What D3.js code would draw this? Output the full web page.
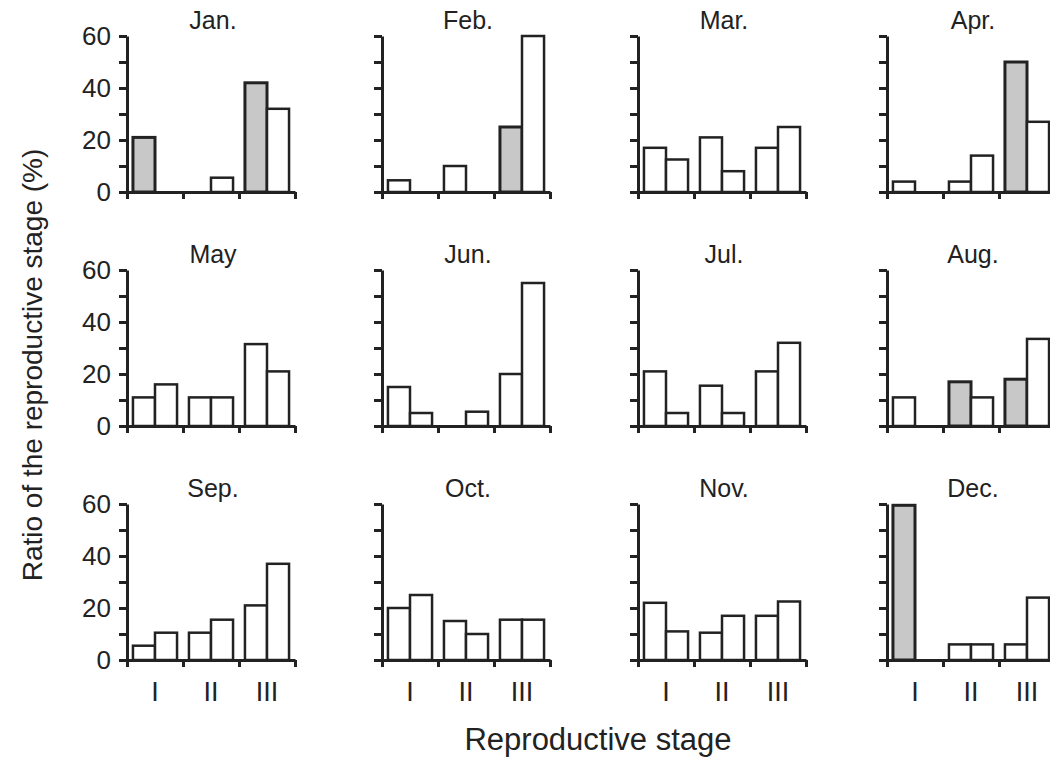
<!DOCTYPE html>
<html>
<head>
<meta charset="utf-8">
<script src="https://cdn.jsdelivr.net/npm/d3@7"></script>
<style>
  body { margin: 0; background: #fff; }
  svg { display: block; }
  text { font-family: "Liberation Sans", Arial, Helvetica, sans-serif; fill: #222; }
  .axis path, .axis line { stroke: #222; stroke-width: 3; }
</style>
</head>
<body>
<svg id="chart" width="1050" height="758"></svg>
<script>
// monthly panels
const months = ["Jan.", "Feb.", "Mar.", "Apr.", "May", "Jun.", "Jul.", "Aug.", "Sep.", "Oct.", "Nov.", "Dec."];
const stages = ["I", "II", "III"];
const leftBars = [
  [21, 0, 42], [4.5, 10, 25], [17, 21, 17], [4, 4, 50],
  [11, 11, 31.5], [15, 0, 20], [21, 15.5, 21], [11, 17, 18],
  [5.5, 10.5, 21], [20, 15, 15.5], [22, 10.5, 17], [59.5, 6, 6]
];
const rightBars = [
  [0, 5.5, 32], [0, 0, 60], [12.5, 8, 25], [0, 14, 27],
  [16, 11, 21], [5, 5.5, 55], [5, 5, 32], [0, 11, 33.5],
  [10.5, 15.5, 37], [25, 10, 15.5], [11, 17, 22.5], [0, 6, 24]
];
// which left bars are drawn shaded grey
const shadedLeft = [
  [1, 0, 1], [0, 0, 1], [0, 0, 0], [0, 0, 1],
  [0, 0, 0], [0, 0, 0], [0, 0, 0], [0, 1, 1],
  [0, 0, 0], [0, 0, 0], [0, 0, 0], [1, 0, 0]
];
const yTicks = [0, 10, 20, 30, 40, 50, 60];
const yLabels = [0, 20, 40, 60];

const colX = [127, 382, 638, 887];
const rowY = [36, 270, 504];
const panelW = 168, panelH = 156;

const svg = d3.select("#chart");

const x = d3.scaleBand().domain(stages).range([0, panelW]).paddingInner(0).paddingOuter(0);
const xSub = d3.scaleBand().domain(["a", "b"]).range([0, x.bandwidth()]).paddingInner(0).paddingOuter(0.27);
const y = d3.scaleLinear().domain([0, 60]).range([panelH, 0]);
const xEdge = d3.scaleLinear().domain([0, 3]).range([0, panelW]);

months.forEach((m, i) => {
  const col = i % 4, row = Math.floor(i / 4);
  const g = svg.append("g").attr("transform", `translate(${colX[col]},${rowY[row]})`);

  const bars = [];
  stages.forEach((s, j) => {
    bars.push({ stage: s, sub: "a", v: leftBars[i][j], shaded: shadedLeft[i][j] === 1 });
    bars.push({ stage: s, sub: "b", v: rightBars[i][j], shaded: false });
  });

  g.selectAll("rect.bar")
    .data(bars.filter(d => d.v > 0))
    .join("rect")
    .attr("class", "bar")
    .attr("x", d => x(d.stage) + xSub(d.sub))
    .attr("width", xSub.bandwidth())
    .attr("y", d => y(d.v))
    .attr("height", d => y(0) - y(d.v))
    .attr("fill", d => d.shaded ? "#c8c8c8" : "#fff")
    .attr("stroke", "#222")
    .attr("stroke-width", d => d.shaded ? 3 : 2.5);

  // y axis
  const ya = g.append("g").attr("class", "axis")
    .call(d3.axisLeft(y).tickValues(yTicks).tickSize(8).tickSizeOuter(0)
      .tickFormat(d => col === 0 && yLabels.includes(d) ? d : ""));
  ya.attr("font-size", null).attr("font-family", null);
  ya.selectAll("text").style("font-size", "26px").attr("dx", -5).attr("fill", "#222");

  // x axis
  g.append("g").attr("class", "axis")
    .attr("transform", `translate(0,${panelH})`)
    .call(d3.axisBottom(xEdge).tickValues([0, 1, 2, 3]).tickSize(7).tickSizeOuter(0).tickFormat(""));

  g.append("text")
    .attr("x", panelW / 2 + 2)
    .attr("y", -7)
    .attr("text-anchor", "middle")
    .style("font-size", "25px")
    .text(m);

  if (row === 2) {
    g.selectAll("text.stage")
      .data(stages)
      .join("text")
      .attr("class", "stage")
      .attr("x", d => x(d) + x.bandwidth() / 2)
      .attr("y", panelH + 41)
      .attr("text-anchor", "middle")
      .style("font-size", "27px")
      .attr("fill", "#333")
      .text(d => d);
  }
});

svg.append("text")
  .attr("transform", "translate(42,365) rotate(-90)")
  .attr("text-anchor", "middle")
  .style("font-size", "28px")
  .text("Ratio of the reproductive stage (%)");

svg.append("text")
  .attr("x", 598)
  .attr("y", 750)
  .attr("text-anchor", "middle")
  .style("font-size", "31px")
  .text("Reproductive stage");
</script>
</body>
</html>
